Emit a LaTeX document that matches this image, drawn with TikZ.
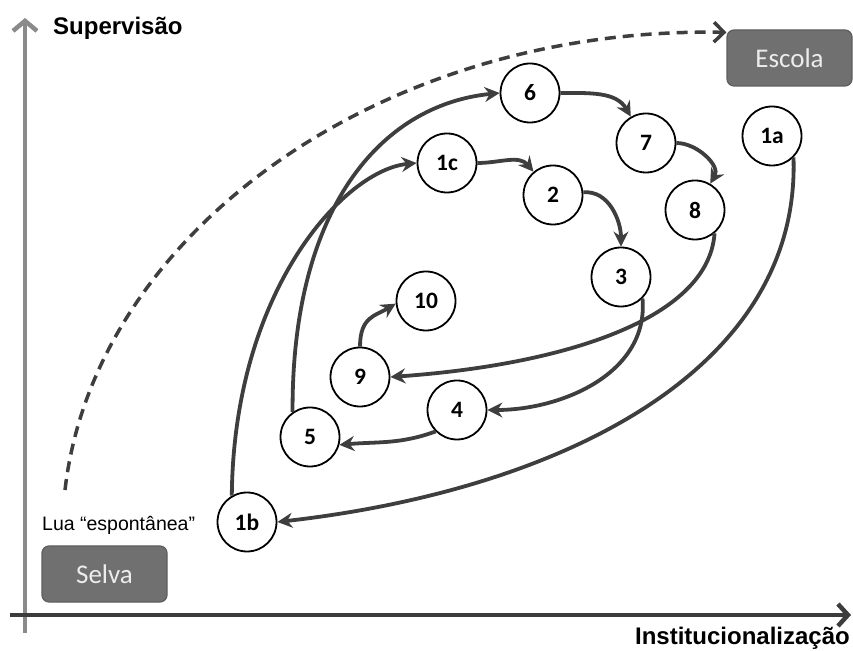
\documentclass[tikz,border=0pt]{standalone}
\usepackage{fontspec}
\setmainfont{Liberation Sans}
\newfontfamily\calfont{Carlito}
\usetikzlibrary{arrows.meta}
\definecolor{arrowgray}{HTML}{3E3E3E}
\definecolor{axisgray}{HTML}{8A8A8A}
\definecolor{axisdark}{HTML}{3C3C3C}
\definecolor{boxfill}{HTML}{707070}
\definecolor{boxline}{HTML}{5E5E5E}
\definecolor{boxtext}{HTML}{ECECEC}
\tikzset{
  circ/.style={circle, draw=black, line width=1.8pt, fill=white, minimum size=59pt, inner sep=0pt,
    font=\calfont\bfseries\fontsize{23.5}{23.5}\selectfont},
  conn/.style={draw=arrowgray, line width=3.8pt, -{Stealth[length=15pt,width=15pt,inset=5pt]}},
  gbox/.style={rectangle, rounded corners=7pt, fill=boxfill, draw=boxline, line width=1.2pt,
    minimum width=125pt, minimum height=56pt, text=boxtext, font=\calfont\fontsize{27}{27}\selectfont},
  axislabel/.style={inner sep=0pt, font=\bfseries\fontsize{24}{24}\selectfont},
  dashconn/.style={draw=arrowgray, line width=3.5pt, dash pattern=on 11pt off 7pt,
    -{Straight Barb[length=10pt,width=20pt]}},
}
\begin{document}
\begin{tikzpicture}[x=1pt,y=1pt]
\useasboundingbox (0,0) rectangle (853,650);
% axes
\coordinate (ybot) at (25,17);
\coordinate (ytop) at (25,632);
\coordinate (xleft) at (10,35);
\coordinate (xright) at (851,35);
\draw[axisgray, line width=4.5pt, -{Straight Barb[length=10pt,width=24pt]}] (ybot) -- (ytop);
\draw[axisdark, line width=4.5pt, -{Straight Barb[length=10pt,width=22pt]}] (xleft) -- (xright);
\node[axislabel, anchor=base west] (ylab) at (53,615) {Supervisão};
\node[axislabel, anchor=base east] (xlab) at (850,6) {Institucionalização};
\node[inner sep=0pt, anchor=base west, font=\fontsize{19.5}{19.5}\selectfont] (lua) at (42,119) {Lua “espontânea”};
% boxes
\node[gbox] (escola) at (789.5,592) {Escola};
\node[gbox] (selva) at (104.5,76) {Selva};
% circles
\node[circ] (n6) at (530,557) {6};
\node[circ] (n7) at (646,507) {7};
\node[circ] (n1c) at (447,487) {1c};
\node[circ] (n2) at (553,455) {2};
\node[circ] (n1a) at (772,514) {1a};
\node[circ] (n8) at (695,440) {8};
\node[circ] (n3) at (621,373) {3};
\node[circ] (n10) at (426,349) {10};
\node[circ] (n9) at (360,273) {9};
\node[circ] (n4) at (457,240) {4};
\node[circ] (n5) at (310,213) {5};
\node[circ] (n1b) at (247,128) {1b};
% dashed
\coordinate (dstart) at (65,160);
\coordinate (dend) at ([yshift=-3pt]escola.north west);
\draw[dashconn] (dstart) .. controls (95,420) and (385,624) .. (dend);
% connectors
\draw[conn] (n6) to[out=0,in=120] (n7);
\draw[conn] (n7) to[out=0,in=60] (n8);
\draw[conn] (n1c) to[out=0,in=130] (n2);
\draw[conn] (n2) to[out=5,in=90] (n3);
\draw[conn] (n3.-45) to[out=-85,in=0] (n4);
\draw[conn] (n4.-135) to[out=-160,in=5] (n5.-15);
\draw[conn] (n5.125) .. controls +(-1,202) and +(-120,-12) .. (n6.west);
\draw[conn] (n1b.120) .. controls +(2,206) and +(-72,-7) .. (n1c.west);
\draw[conn] (n8.-50) .. controls +(-6,-87) and +(170,12) .. (n9.east);
\draw[conn] (n9.north) .. controls +(0,30) and +(-20,-12) .. (n10.185);
\draw[conn] (n1a.-45) .. controls +(7,-213) and +(283,32) .. (n1b.east);
\end{tikzpicture}
\end{document}
